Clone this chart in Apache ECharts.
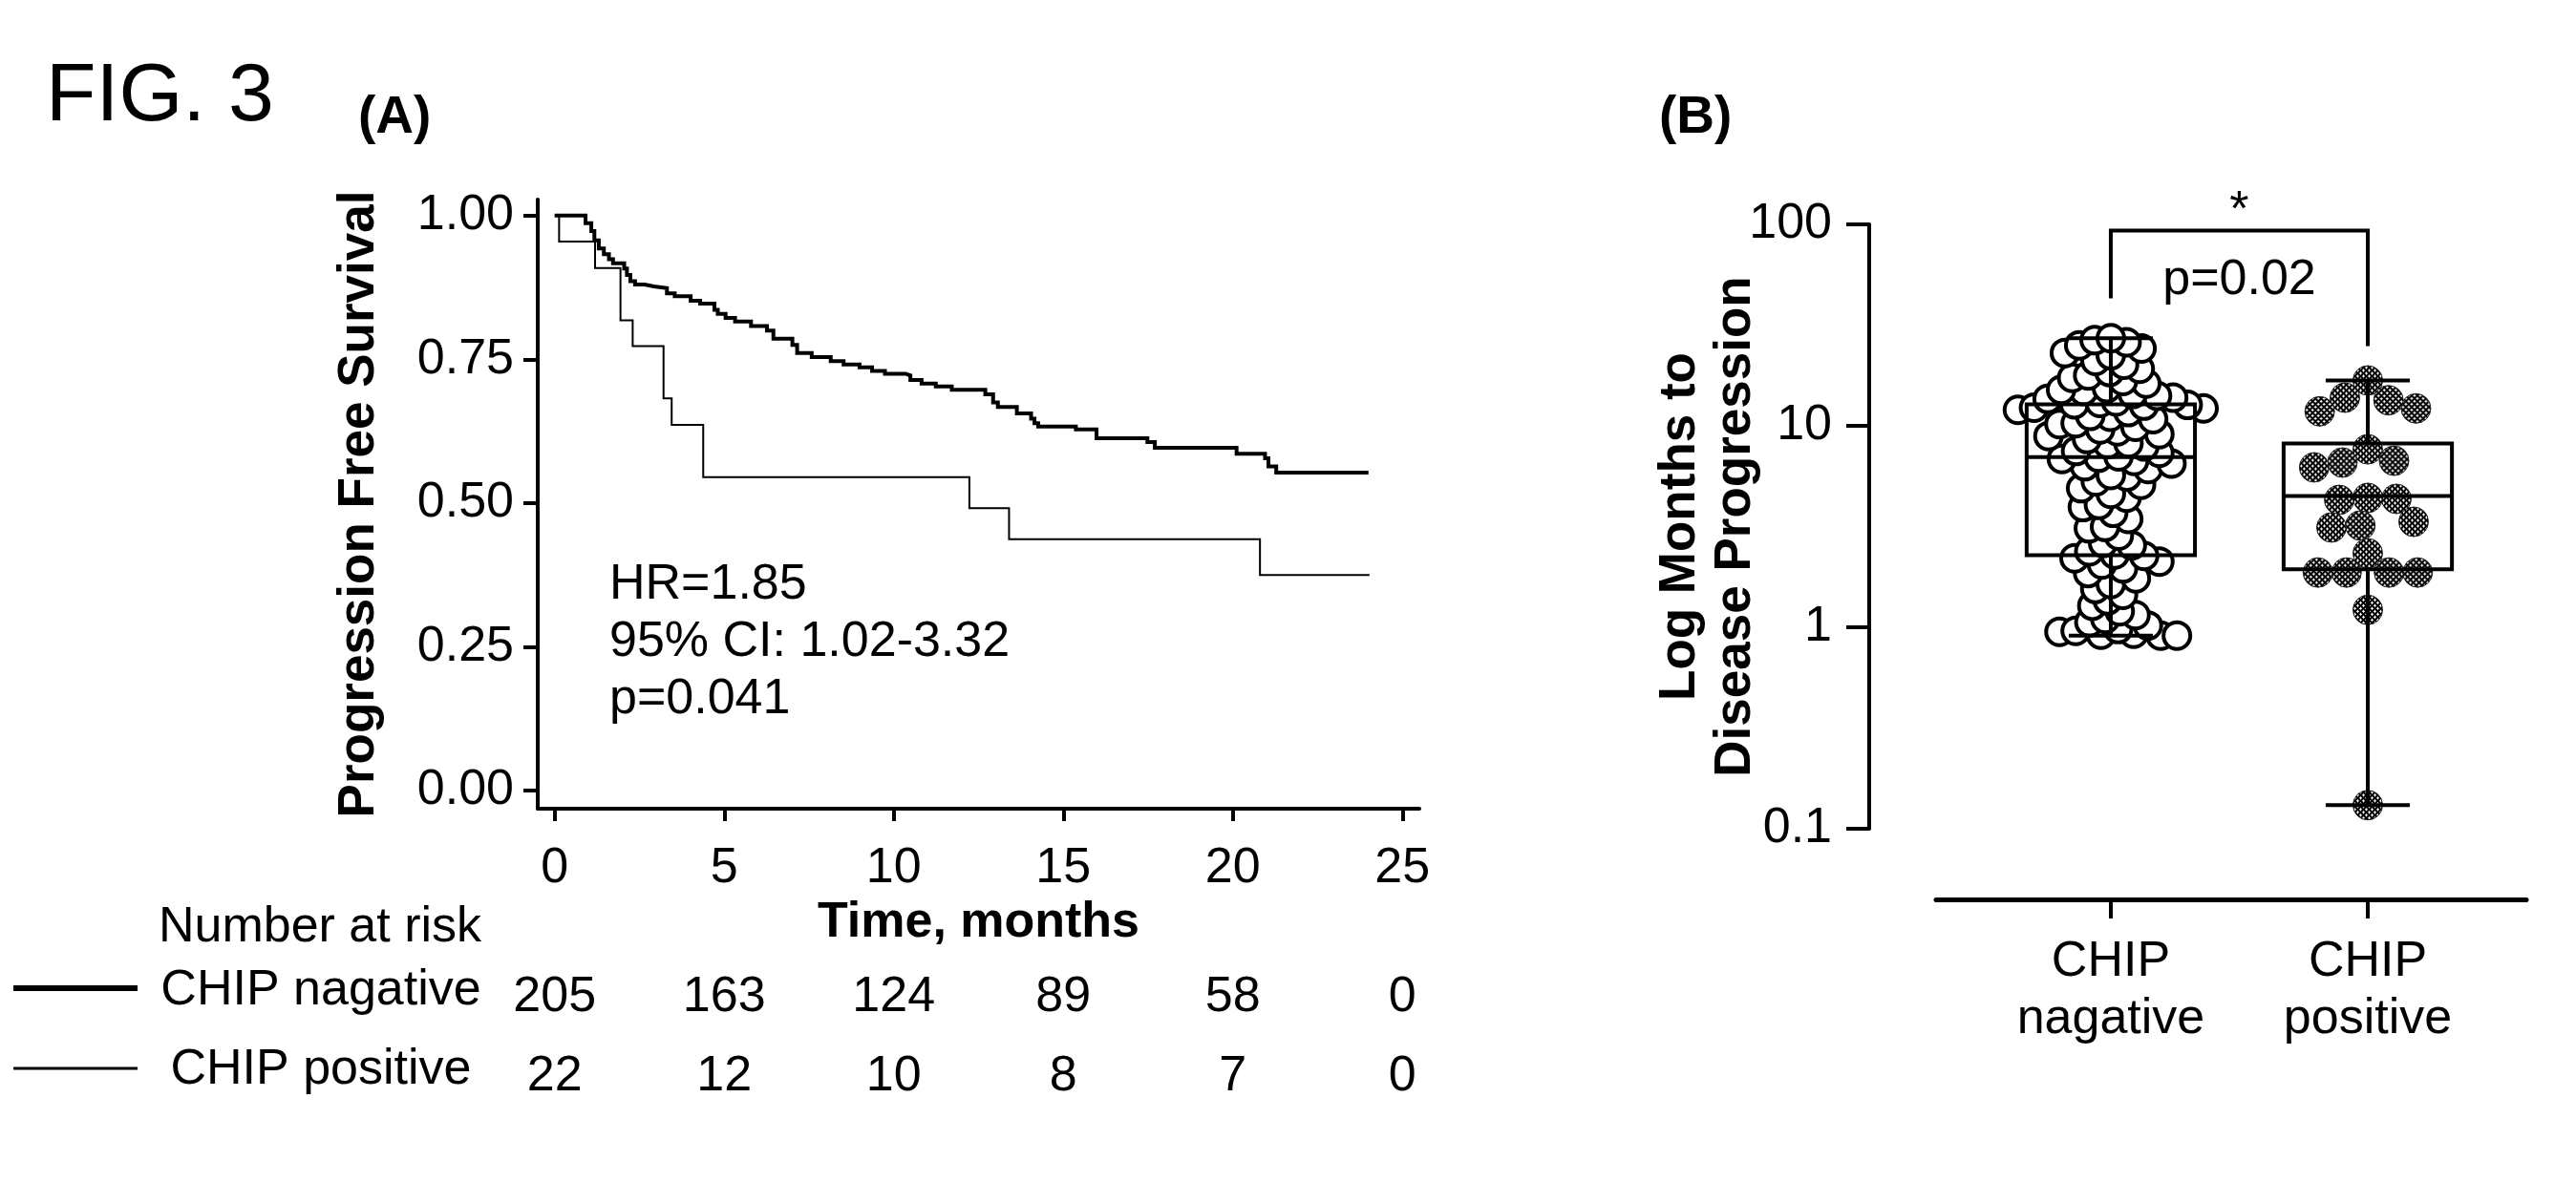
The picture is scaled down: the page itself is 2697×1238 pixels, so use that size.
<!DOCTYPE html>
<html><head><meta charset="utf-8">
<script src="https://cdn.jsdelivr.net/npm/echarts@6/dist/echarts.min.js"></script>
<style>html,body{margin:0;padding:0;background:#fff}#c{width:2697px;height:1238px}</style>
</head><body><div id="c"></div>
<script>
const FONT = '"Liberation Sans", Arial, Helvetica, sans-serif';

// ---- Panel A: Kaplan-Meier progression free survival ----
const negTime = [0, 0.91, 1.08, 1.17, 1.30, 1.45, 1.60, 1.72, 2.05, 2.13, 2.23, 2.37, 2.65, 2.93, 3.31, 3.54, 4.01, 4.29, 4.71, 4.81, 5.04, 5.32, 5.79, 6.26, 6.45, 7.01, 7.15, 7.58, 8.14, 8.52, 8.99, 9.36, 9.74, 10.35, 10.49, 10.82, 11.24, 11.71, 12.70, 12.93, 13.07, 13.63, 14.05, 14.15, 14.26, 15.37, 15.98, 17.48, 17.70, 20.11, 20.95, 21.05, 21.28, 24.0];
const negSurv = [1.000, 0.987, 0.973, 0.957, 0.943, 0.933, 0.924, 0.917, 0.908, 0.897, 0.886, 0.880, 0.877, 0.874, 0.865, 0.860, 0.852, 0.847, 0.836, 0.829, 0.822, 0.816, 0.808, 0.800, 0.786, 0.775, 0.761, 0.754, 0.747, 0.741, 0.736, 0.730, 0.725, 0.722, 0.714, 0.708, 0.703, 0.697, 0.689, 0.675, 0.667, 0.656, 0.647, 0.639, 0.633, 0.628, 0.613, 0.606, 0.596, 0.586, 0.578, 0.564, 0.553, 0.553];
const posTime = [0, 0.13, 1.19, 1.94, 2.30, 3.21, 3.45, 4.38, 12.23, 13.40, 20.80, 24.03];
const posSurv = [1.000, 0.955, 0.909, 0.818, 0.773, 0.682, 0.636, 0.545, 0.491, 0.437, 0.375, 0.375];
const kmTicksX = [0, 5, 10, 15, 20, 25];
const kmTicksY = [0, 0.25, 0.5, 0.75, 1];
const riskRows = ['CHIP nagative', 'CHIP positive'];
const riskTimes = [0, 5, 10, 15, 20, 25];
const riskNeg = [205, 163, 124, 89, 58, 0];
const riskPos = [22, 12, 10, 8, 7, 0];
const statsText = 'HR=1.85\n95% CI: 1.02-3.32\np=0.041';

// ---- Panel B: log months to disease progression ----
const groups = ['CHIP\nnagative', 'CHIP\npositive'];
const boxNeg = [0.91, 2.28, 7.0, 12.8, 27.2];   // min, Q1, median, Q3, max
const boxPos = [0.131, 1.94, 4.48, 8.17, 16.8];
const monthsNeg = [0.91, 0.91, 0.92, 0.93, 0.95, 0.96, 0.98, 1.02, 1.06, 1.10, 1.15, 1.20, 1.28, 1.36, 1.45, 1.55, 1.64, 1.75, 1.86, 1.96, 2.05, 2.12, 2.20, 2.26,
  2.30, 2.38, 2.55, 2.62, 2.85, 3.10, 3.15, 3.45, 3.70, 3.95, 4.05, 4.40, 4.60, 4.90, 5.10, 5.30, 5.60, 5.70, 6.10, 6.30, 6.50, 6.70, 6.85, 6.95,
  7.05, 7.35, 7.50, 7.90, 8.10, 8.20, 8.60, 8.90, 9.10, 9.40, 9.60, 9.90, 10.2, 10.3, 10.8, 11.1, 11.2, 11.7, 12.0, 12.2, 12.3, 12.6, 12.7, 12.8,
  13.0, 13.2, 13.6, 13.8, 14.1, 14.4, 14.9, 15.1, 15.4, 16.2, 16.7, 17.3, 17.8, 18.5, 19.2, 20.1, 21.0, 22.4, 23.0, 24.2, 25.1, 26.0, 26.6, 27.2];
const monthsPos = [16.8, 13.8, 11.8, 12.2, 13.4, 7.65, 6.57, 6.22, 6.71, 4.34, 4.29, 4.39, 3.13, 3.20, 3.34, 2.33, 1.87, 1.87, 1.87, 1.87, 1.22, 0.131];
const bracketX = [0, 0, 1, 1];
const bracketY = [42.9, 93.1, 93.1, 24.9];
const annoX = [0.5, 0.5];
const annoY = [52.8, 116];
const annoText = ['p=0.02', '*'];

// dotted texture (small white crosses on black) for the CHIP positive dots
const tex = document.createElement('canvas');
tex.width = 6; tex.height = 6;
const tc = tex.getContext('2d');
tc.fillStyle = '#000'; tc.fillRect(0, 0, 6, 6);
tc.fillStyle = '#fff';
[[1, 1], [4, 4]].forEach(([cx, cy]) => {
  tc.fillRect(cx - 1, cy, 3, 1);
  tc.fillRect(cx, cy - 1, 1, 3);
});
const POS_SIZE = 31;

const chart = echarts.init(document.getElementById('c'), null, {renderer: 'canvas'});
const black = '#000';
const txt = (size, weight) => ({color: black, fontFamily: FONT, fontSize: size, fontWeight: weight || 'normal'});
const plainLabel = {textBorderWidth: 0, textBorderColor: 'transparent', textShadowBlur: 0, opacity: 1};

const option = {
  backgroundColor: '#fff',
  animation: false,
  textStyle: {fontFamily: FONT, color: black},
  grid: [
    {left: 563, top: 209, width: 923, height: 638},
    {left: 563, top: 996, width: 923, height: 166},
    {left: 2027, top: 235, width: 618, height: 633}
  ],
  xAxis: [
    {gridIndex: 0, type: 'value', min: -0.5, max: 25.5,
      axisLine: {onZero: false, lineStyle: {color: black, width: 4}},
      axisTick: {customValues: kmTicksX, length: 13, lineStyle: {color: black, width: 4}},
      axisLabel: Object.assign({customValues: kmTicksX, margin: 37}, txt(52)),
      splitLine: {show: false},
      name: 'Time, months', nameLocation: 'middle', nameGap: 94, nameMoveOverlap: false,
      nameTextStyle: txt(52, 'bold')},
    {gridIndex: 1, type: 'value', min: -0.5, max: 25.5, show: false},
    {gridIndex: 2, type: 'value', min: -0.68, max: 1.617, offset: 74,
      axisLine: {onZero: false, lineStyle: {color: black, width: 5}},
      axisTick: {customValues: [0, 1], length: 20, lineStyle: {color: black, width: 4}},
      axisLabel: Object.assign({customValues: [0, 1], margin: 36, lineHeight: 60,
        formatter: v => groups[Math.round(v)]}, txt(52)),
      splitLine: {show: false}}
  ],
  yAxis: [
    {gridIndex: 0, type: 'value', min: -0.0316, max: 1.028,
      axisLine: {show: true, onZero: false, lineStyle: {color: black, width: 4}},
      axisTick: {show: true, customValues: kmTicksY, length: 15, lineStyle: {color: black, width: 4}},
      axisLabel: Object.assign({customValues: kmTicksY, margin: 25, formatter: v => v.toFixed(2)}, txt(52)),
      splitLine: {show: false},
      name: 'Progression Free Survival', nameLocation: 'middle', nameGap: 160, nameMoveOverlap: false,
      nameTextStyle: txt(53, 'bold')},
    {gridIndex: 1, type: 'category', data: riskRows, inverse: true,
      axisLine: {show: false, onZero: false}, axisTick: {show: false},
      axisLabel: Object.assign({align: 'center', margin: 227}, txt(52)),
      splitLine: {show: false}},
    {gridIndex: 2, type: 'log', logBase: 10, min: 0.1, max: 100, offset: 70,
      axisLine: {show: true, onZero: false, lineStyle: {color: black, width: 4}},
      axisTick: {show: true, length: 24, lineStyle: {color: black, width: 4}},
      axisLabel: Object.assign({margin: 39}, txt(52)),
      splitLine: {show: false}, minorTick: {show: false},
      name: 'Log Months to\nDisease Progression', nameLocation: 'middle', nameGap: 111, nameMoveOverlap: false,
      nameTextStyle: Object.assign({lineHeight: 58}, txt(53, 'bold'))}
  ],
  series: [
    {type: 'line', xAxisIndex: 0, yAxisIndex: 0, step: 'end', symbol: 'none',
      lineStyle: {color: black, width: 4, join: 'miter', cap: 'butt'},
      data: negTime.map((t, i) => [t, negSurv[i]])},
    {type: 'line', xAxisIndex: 0, yAxisIndex: 0, step: 'end', symbol: 'none',
      lineStyle: {color: black, width: 2, join: 'miter', cap: 'butt'},
      data: posTime.map((t, i) => [t, posSurv[i]])},
    {type: 'scatter', xAxisIndex: 1, yAxisIndex: 1, symbolSize: 0, silent: true, itemStyle: {color: black, opacity: 1},
      label: Object.assign({show: true, position: 'inside', offset: [0, 7], formatter: p => String(p.value[2])}, txt(52), plainLabel),
      data: riskTimes.map((t, i) => [t, 0, riskNeg[i]]).concat(riskTimes.map((t, i) => [t, 1, riskPos[i]]))},
    {id: 'negPts', type: 'scatter', xAxisIndex: 2, yAxisIndex: 2, symbol: 'circle', symbolSize: 28, z: 2,
      itemStyle: {color: '#fff', borderColor: black, borderWidth: 4, opacity: 1},
      data: monthsNeg.map(v => [0, v])},
    {id: 'posPts', type: 'scatter', xAxisIndex: 2, yAxisIndex: 2, symbol: 'circle', symbolSize: POS_SIZE, z: 2,
      itemStyle: {color: {image: tex, repeat: 'repeat', scaleX: 2 / POS_SIZE, scaleY: 2 / POS_SIZE},
        borderColor: '#222', borderWidth: 1, opacity: 1},
      data: monthsPos.map(v => [1, v])},
    {type: 'custom', xAxisIndex: 2, yAxisIndex: 2, z: 3, silent: true,
      data: [[0].concat(boxNeg), [1].concat(boxPos)],
      renderItem: (params, api) => {
        const c = api.value(0);
        const x = api.coord([c, api.value(3)])[0];
        const w = api.size([0.655, 0])[0];
        const y = [1, 2, 3, 4, 5].map(k => api.coord([c, api.value(k)])[1]);
        const st = {stroke: black, lineWidth: 4, fill: null};
        const ln = (x1, y1, x2, y2) => ({type: 'line', shape: {x1, y1, x2, y2}, style: st});
        return {type: 'group', children: [
          {type: 'rect', shape: {x: x - w / 2, y: y[3], width: w, height: y[1] - y[3]}, style: st},
          ln(x - w / 2, y[2], x + w / 2, y[2]),
          ln(x, y[3], x, y[4]),
          ln(x, y[1], x, y[0]),
          ln(x - w / 4, y[4], x + w / 4, y[4]),
          ln(x - w / 4, y[0], x + w / 4, y[0])
        ]};
      }},
    {type: 'line', xAxisIndex: 2, yAxisIndex: 2, symbol: 'none', z: 3,
      lineStyle: {color: black, width: 4, join: 'miter'},
      data: bracketX.map((x, i) => [x, bracketY[i]])},
    {type: 'scatter', xAxisIndex: 2, yAxisIndex: 2, symbolSize: 0, clip: false, silent: true, itemStyle: {color: black, opacity: 1},
      label: Object.assign({show: true, position: 'inside', formatter: p => annoText[p.dataIndex]}, txt(52), plainLabel),
      data: annoX.map((x, i) => [x, annoY[i]])}
  ],
  graphic: [
    {type: 'text', x: 48, y: 102, style: {text: 'FIG. 3', font: '86px ' + FONT, fill: black, verticalAlign: 'middle'}},
    {type: 'text', x: 375, y: 124, style: {text: '(A)', font: 'bold 55px ' + FONT, fill: black, verticalAlign: 'middle'}},
    {type: 'text', x: 1737, y: 124, style: {text: '(B)', font: 'bold 55px ' + FONT, fill: black, verticalAlign: 'middle'}},
    {type: 'text', x: 638, y: 583, style: {text: statsText, font: '52px ' + FONT, lineHeight: 60, fill: black, verticalAlign: 'top'}},
    {type: 'text', x: 335, y: 972, style: {text: 'Number at risk', font: '52px ' + FONT, fill: black, align: 'center', verticalAlign: 'middle'}},
    {type: 'line', shape: {x1: 14, y1: 1035, x2: 144, y2: 1035}, style: {stroke: black, lineWidth: 6}},
    {type: 'line', shape: {x1: 14, y1: 1119, x2: 144, y2: 1119}, style: {stroke: black, lineWidth: 3}}
  ]
};
chart.setOption(option);

// beeswarm placement of the dots, computed in pixel space through the axes
function swarm(values, cat, dist) {
  const p0 = chart.convertToPixel({xAxisIndex: 2}, 0);
  const p1 = chart.convertToPixel({xAxisIndex: 2}, 1);
  const pxPer = p1 - p0;
  const ys = values.map(v => chart.convertToPixel({yAxisIndex: 2}, v));
  const order = values.map((v, i) => i).sort((a, b) => values[b] - values[a]);
  const placed = [];
  const off = new Array(values.length).fill(0);
  order.forEach((i, k) => {
    const y = ys[i];
    const near = placed.filter(p => Math.abs(p.y - y) < dist);
    const cands = [0];
    near.forEach(p => {
      const dx = Math.sqrt(dist * dist - (p.y - y) * (p.y - y));
      cands.push(p.x + dx, p.x - dx);
    });
    cands.sort((a, b) => (Math.abs(a) - Math.abs(b)) || (k % 2 ? a - b : b - a));
    let x = 0;
    for (const c of cands) {
      if (near.every(p => (p.x - c) * (p.x - c) + (p.y - y) * (p.y - y) >= dist * dist - 0.5)) { x = c; break; }
    }
    placed.push({x, y});
    off[i] = x / pxPer;
  });
  return values.map((v, i) => [cat + off[i], v]);
}
chart.setOption({series: [
  {id: 'negPts', data: swarm(monthsNeg, 0, 17)},
  {id: 'posPts', data: swarm(monthsPos, 1, 30)}
]});
</script></body></html>
